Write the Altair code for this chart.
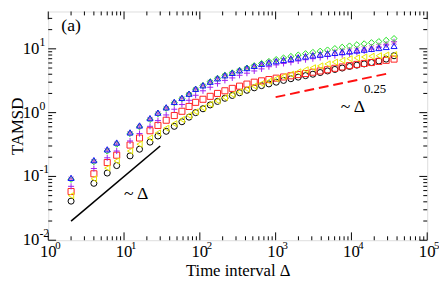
import altair as alt
import pandas as pd

# ---------------- data ----------------
X = [2, 4, 6, 8, 12, 16, 22, 28, 36, 46, 58, 72, 88, 110, 137, 171, 214, 268, 334, 418,
     522, 652, 815, 1018, 1272, 1590, 1986, 2481, 3100, 3873, 4839, 6046, 7554, 9438,
     11790, 14730, 18400, 23000, 28730, 36500]

BLACK = [0.041, 0.078, 0.113, 0.148, 0.21, 0.267, 0.345, 0.43, 0.51, 0.61, 0.72, 0.85,
         1.0, 1.15, 1.32, 1.5, 1.68, 1.86, 2.05, 2.24, 2.45, 2.65, 2.82, 3.0,
         3.2, 3.4, 3.6, 3.8, 4.0, 4.25, 4.5, 4.75, 5.0, 5.3,
         5.55, 5.8, 6.1, 6.45, 6.9, 7.8]
RED = [0.058, 0.11, 0.165, 0.215, 0.31, 0.40, 0.52, 0.63, 0.76, 0.90, 1.05, 1.25,
       1.45, 1.62, 1.8, 2.0, 2.2, 2.4, 2.6, 2.8, 3.0, 3.15, 3.3, 3.47,
       3.62, 3.78, 3.95, 4.1, 4.3, 4.5, 4.7, 4.95, 5.2, 5.45,
       5.7, 5.9, 6.1, 6.35, 6.6, 6.9]
YELLOW = [0.05, 0.092, 0.135, 0.175, 0.25, 0.32, 0.40, 0.48, 0.57, 0.67, 0.78, 0.90,
          1.03, 1.18, 1.35, 1.53, 1.72, 1.92, 2.12, 2.35, 2.6, 2.85, 3.1, 3.4,
          3.7, 4.0, 4.35, 4.7, 5.05, 5.4, 5.8, 6.2, 6.6, 7.0,
          7.2, 7.45, 7.65, 7.8, 8.0, 8.1]
PURPLE = [0.07, 0.133, 0.196, 0.25, 0.36, 0.47, 0.61, 0.75, 0.92, 1.13, 1.34, 1.56,
          1.87, 2.2, 2.5, 2.85, 3.2, 3.5, 3.85, 4.15, 4.5, 4.85, 5.25, 5.6,
          5.9, 6.15, 6.45, 6.75, 7.0, 7.3, 7.6, 7.85, 8.1, 8.4,
          8.8, 9.3, 9.9, 10.6, 11.6, 12.9]
STAR = [0.093, 0.175, 0.26, 0.33, 0.48, 0.61, 0.8, 0.98, 1.19, 1.45, 1.68, 1.96,
        2.34, 2.66, 3.05, 3.45, 3.85, 4.2, 4.6, 5.0, 5.4, 5.8, 6.2, 6.5,
        6.8, 7.1, 7.45, 7.8, 8.1, 8.4, 8.7, 9.0, 9.3, 9.6,
        9.9, 10.3, 10.7, 11.2, 11.8, 12.4]
GREEN = [0.09, 0.17, 0.25, 0.32, 0.47, 0.6, 0.78, 0.96, 1.17, 1.43, 1.66, 1.95,
         2.33, 2.66, 3.05, 3.45, 3.85, 4.2, 4.6, 5.0, 5.45, 5.9, 6.35, 6.8,
         7.2, 7.6, 8.0, 8.4, 8.8, 9.2, 9.6, 10.1, 10.6, 11.1,
         11.6, 12.0, 12.5, 13.0, 13.6, 14.5]
BLUE = [0.095, 0.18, 0.266, 0.34, 0.49, 0.63, 0.82, 1.0, 1.21, 1.47, 1.7, 1.98,
        2.36, 2.68, 3.05, 3.45, 3.85, 4.2, 4.6, 5.0, 5.4, 5.8, 6.1, 6.4,
        6.7, 7.0, 7.3, 7.6, 7.9, 8.15, 8.4, 8.65, 8.9, 9.1,
        9.4, 9.7, 10.0, 10.3, 10.7, 11.1]

SERIES = ["black", "red", "yellow", "purple", "star", "green", "blue"]
VALUES = [BLACK, RED, YELLOW, PURPLE, STAR, GREEN, BLUE]
COLORS = ["#000000", "#ff2020", "#e8e800", "#a020f0", "#c060c0", "#20e020", "#1010ff"]
SHAPES = ["circle", "square", "triangle-left", "M-1,0L1,0M0,-1L0,1",
          "M0,-1L0,1M-0.87,-0.5L0.87,0.5M-0.87,0.5L0.87,-0.5", "diamond", "triangle-up"]

# guide lines
LINE1_X = [2, 30]
LINE1_Y = [0.02, 0.3]
LINE2_X = [1000, 30000]
LINE2_Y = [1.75, 4.1]

# annotations
ANN_TEXT = ["(a)", "~ Δ", "~ Δ"]
ANN_X = [2.0, 14.5, 10500]
ANN_Y = [22.5, 0.052, 1.22]
SUP_TEXT = ["0.25"]
SUP_X = [20500]
SUP_Y = [2.35]

# ticks / labels
XMAJ = [1, 10, 100, 1000, 10000, 100000]
XEXP = ["0", "1", "2", "3", "4", "5"]
XMIN = [m * 10 ** k for k in range(0, 5) for m in range(2, 10)]
YMAJ = [0.01, 0.1, 1, 10]
YEXP = ["-2", "-1", "0", "1"]
YMIN = [m * 10.0 ** k for k in range(-2, 2) for m in range(2, 10) if m * 10.0 ** k < 38]

# ---------------- layout ----------------
W, H = 386, 233
FONT = "Liberation Serif"

xs = alt.Scale(type="log", domain=[1, 100000], nice=False)
ys = alt.Scale(type="log", domain=[0.01, 38.5], nice=False)
AX = alt.Axis(title="Time interval Δ", labels=False, ticks=False, domain=False, grid=False,
              titleFont=FONT, titleFontSize=17, titleFontWeight="normal", titlePadding=23,
              titleColor="black")
AY = alt.Axis(title="TAMSD", labels=False, ticks=False, domain=False, grid=False,
              titleFont=FONT, titleFontSize=17, titleFontWeight="normal", titlePadding=22,
              titleColor="black")


def xe(f):
    return alt.X(f, type="quantitative", scale=xs, axis=AX)


def ye(f):
    return alt.Y(f, type="quantitative", scale=ys, axis=AY)


rows = []
for name, vals in zip(SERIES, VALUES):
    for xv, yv in zip(X, vals):
        rows.append({"x": xv, "y": yv, "s": name})
df = pd.DataFrame(rows)

points = alt.Chart(df).mark_point(filled=False, size=38, strokeWidth=1, opacity=1).encode(
    x=xe("x"), y=ye("y"),
    color=alt.Color("s:N", scale=alt.Scale(domain=SERIES, range=COLORS), legend=None),
    shape=alt.Shape("s:N", scale=alt.Scale(domain=SERIES, range=SHAPES), legend=None),
)

l1 = alt.Chart(pd.DataFrame({"x": LINE1_X, "y": LINE1_Y})).mark_line(
    color="black", strokeWidth=1.6).encode(x=xe("x"), y=ye("y"))
l2 = alt.Chart(pd.DataFrame({"x": LINE2_X, "y": LINE2_Y})).mark_line(
    color="#ff1010", strokeWidth=2, strokeDash=[10, 5]).encode(x=xe("x"), y=ye("y"))

ann = alt.Chart(pd.DataFrame({"t": ANN_TEXT, "x": ANN_X, "y": ANN_Y})).mark_text(
    font=FONT, fontSize=18, color="black", baseline="middle", align="center").encode(
    x=xe("x"), y=ye("y"), text="t:N")
sup = alt.Chart(pd.DataFrame({"t": SUP_TEXT, "x": SUP_X, "y": SUP_Y})).mark_text(
    font=FONT, fontSize=13, color="black", baseline="middle", align="center").encode(
    x=xe("x"), y=ye("y"), text="t:N")

# tick marks (inward, mirrored)
xmaj_df = pd.DataFrame({"v": XMAJ})
xmin_df = pd.DataFrame({"v": XMIN})
ymaj_df = pd.DataFrame({"v": YMAJ})
ymin_df = pd.DataFrame({"v": YMIN})

tick_layers = []
for d, L in [(xmaj_df, 8), (xmin_df, 4)]:
    tick_layers.append(alt.Chart(d).mark_rule(color="black", strokeWidth=1).encode(
        x=xe("v"), y=alt.value(H), y2=alt.value(H - L)))
    tick_layers.append(alt.Chart(d).mark_rule(color="black", strokeWidth=1).encode(
        x=xe("v"), y=alt.value(0), y2=alt.value(L)))
for d, L in [(ymaj_df, 8), (ymin_df, 4)]:
    tick_layers.append(alt.Chart(d).mark_rule(color="black", strokeWidth=1).encode(
        y=ye("v"), x=alt.value(0), x2=alt.value(L)))
    tick_layers.append(alt.Chart(d).mark_rule(color="black", strokeWidth=1).encode(
        y=ye("v"), x=alt.value(W), x2=alt.value(W - L)))

# tick labels 10^n
xl_df = pd.DataFrame({"v": XMAJ, "e": XEXP, "b": ["10"] * len(XMAJ)})
yl_df = pd.DataFrame({"v": YMAJ, "e": YEXP, "b": ["10"] * len(YMAJ)})
xlab = alt.Chart(xl_df).mark_text(font=FONT, fontSize=17, align="center",
                                  baseline="alphabetic", color="black").encode(
    x=xe("v"), y=alt.value(H + 17), text="b:N")
xexp = alt.Chart(xl_df).mark_text(font=FONT, fontSize=11, align="left",
                                  baseline="alphabetic", dx=7, color="black").encode(
    x=xe("v"), y=alt.value(H + 9), text="e:N")
ylab = alt.Chart(yl_df).mark_text(font=FONT, fontSize=17, align="right",
                                  baseline="middle", color="black").encode(
    y=ye("v"), x=alt.value(-9), text="b:N")
yexp = alt.Chart(yl_df).mark_text(font=FONT, fontSize=12, align="left",
                                  baseline="middle", dx=0, dy=-7, color="black").encode(
    y=ye("v"), x=alt.value(-9), text="e:N")

chart = alt.layer(
    *tick_layers, l1, l2, points, ann, sup, xlab, xexp, ylab, yexp
).properties(
    width=W, height=H,
    autosize=alt.AutoSizeParams(type="none"),
    padding={"left": 41, "right": 12, "top": 1, "bottom": 40},
).configure_view(stroke="black", strokeWidth=1.2).configure(background="white")

chart.save("out.html", embed_options={"renderer": "svg", "actions": False})
